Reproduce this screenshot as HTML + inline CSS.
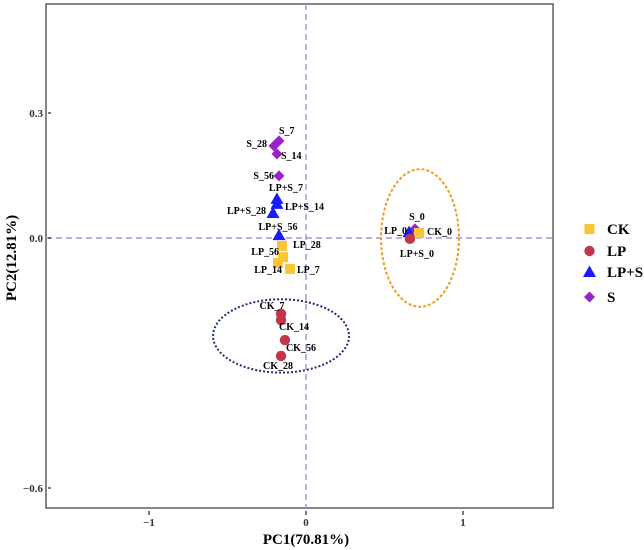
<!DOCTYPE html>
<html><head><meta charset="utf-8"><style>
body{margin:0;background:#fff}
svg{display:block;font-family:"Liberation Serif",serif}
</style></head><body>
<svg id="chart" width="644" height="550" viewBox="0 0 644 550"></svg>
<script>
const xTicks=[-1,0,1];
const yTicks=[0.3,0,-0.6];
const yTickLabels=["0.3","0.0","\u22120.6"];
const xTickLabels=["\u22121","0","1"];
const groups=["CK","LP","LP+S","S"];
const labels=["S_7","S_28","S_14","S_56","LP+S_7","LP+S_14","LP+S_28","LP+S_56","LP_28","LP_56","LP_14","LP_7","CK_7","CK_14","CK_56","CK_28","S_0","LP_0","CK_0","LP+S_0"];
const pc1=[-0.172,-0.204,-0.185,-0.172,-0.185,-0.185,-0.210,-0.172,-0.153,-0.146,-0.178,-0.102,-0.159,-0.159,-0.134,-0.159,0.694,0.656,0.720,0.662];
const pc2=[0.233,0.221,0.202,0.149,0.094,0.082,0.060,0.007,-0.019,-0.046,-0.060,-0.074,-0.182,-0.197,-0.245,-0.283,0.022,0.014,0.012,-0.002];
const groupOf=["S","S","S","S","LP+S","LP+S","LP+S","LP+S","CK","CK","CK","CK","LP","LP","LP","LP","S","LP+S","CK","LP"];
const ellipseBlue=[-0.159,-0.235,0.433,0.088];
const ellipseOrange=[0.726,0.0,0.248,0.165];

const L=46,R=553,T=4,B=508;
const X=v=>306+v*157, Y=v=>238-v*416.7;
const lblOff={"S_7":[0,-7,"start"],"S_28":[-7,1,"end"],"S_14":[4,5,"start"],"S_56":[-5,3,"end"],"LP+S_7":[9,-8,"middle"],"LP+S_14":[8,6,"start"],"LP+S_28":[-7,1,"end"],"LP+S_56":[-1,-5,"middle"],"LP_28":[11,2,"start"],"LP_56":[-4,-2,"end"],"LP_14":[4,10,"end"],"LP_7":[7,4,"start"],"CK_7":[-9,-5,"middle"],"CK_14":[-2,10,"start"],"CK_56":[1,11,"start"],"CK_28":[-3,13,"middle"],"S_0":[2,-9,"middle"],"LP_0":[-2,2,"end"],"CK_0":[8,2,"start"],"LP+S_0":[7,18,"middle"]};
const svg=document.getElementById('chart');const NS="http://www.w3.org/2000/svg";
function mk(t,a,p){const e=document.createElementNS(NS,t);for(const k in a)e.setAttribute(k,a[k]);(p||svg).appendChild(e);return e;}
function marker(g,cx,cy){let e;
 if(g==="CK"){e=mk('rect',{x:cx-5,y:cy-5,width:10,height:10,fill:'#fcc536'});}
 else if(g==="LP"){e=mk('circle',{cx:cx,cy:cy,r:5.2,fill:'#c0374a'});}
 else if(g==="LP+S"){e=mk('polygon',{points:`${cx},${cy-6.5} ${cx-6.5},${cy+5} ${cx+6.5},${cy+5}`,fill:'#1a1aff'});}
 else {e=mk('polygon',{points:`${cx},${cy-5.5} ${cx+5.5},${cy} ${cx},${cy+5.5} ${cx-5.5},${cy}`,fill:'#9a22cc'});}
 return e;}
let e;
e=mk('rect',{x:L,y:T,width:R-L,height:B-T,fill:'none',stroke:'#444','stroke-width':1.3});

e=mk('line',{x1:X(0),x2:X(0),y1:T,y2:B,stroke:'#9b9bd6','stroke-width':1.5,'stroke-dasharray':'6,4'});

e=mk('line',{x1:L,x2:R,y1:Y(0),y2:Y(0),stroke:'#9b9bd6','stroke-width':1.5,'stroke-dasharray':'6,4'});

xTicks.forEach((v,i)=>{const t=mk('line',{x1:X(v),x2:X(v),y1:B+3,y2:B+7,stroke:'#333','stroke-width':1.3});
 
 const l=mk('text',{x:X(v),y:B+18,'text-anchor':'middle','font-size':11,'font-weight':'bold',fill:'#333'});l.textContent=xTickLabels[i];
 });
yTicks.forEach((v,i)=>{const t=mk('line',{x1:L+2,x2:L+5,y1:Y(v),y2:Y(v),stroke:'#333','stroke-width':1.3});
 
 const l=mk('text',{x:L-3,y:Y(v)+4,'text-anchor':'end','font-size':11,'font-weight':'bold',fill:'#333'});l.textContent=yTickLabels[i];
 });
e=mk('ellipse',{cx:X(ellipseBlue[0]),cy:Y(ellipseBlue[1]),rx:ellipseBlue[2]*157,ry:ellipseBlue[3]*416.7,fill:'none',stroke:'#1f2f7a','stroke-width':2,'stroke-dasharray':'2,2'});

e=mk('ellipse',{cx:X(ellipseOrange[0]),cy:Y(ellipseOrange[1]),rx:ellipseOrange[2]*157,ry:ellipseOrange[3]*416.7,fill:'none',stroke:'#e8a020','stroke-width':2,'stroke-dasharray':'3,2'});

labels.forEach((n,i)=>{const cx=X(pc1[i]),cy=Y(pc2[i]);
 const m=marker(groupOf[i],cx,cy);
 
 
 const o=lblOff[n]||[5,-5,'start'];
 const t=mk('text',{x:cx+o[0],y:cy+o[1],'text-anchor':o[2],'font-size':10,'font-weight':'bold'});t.textContent=n;
 
 });
const legY=[229,251,272,297];
groups.forEach((g,i)=>{const m=marker(g,589.5,legY[i]);
 
 const t=mk('text',{x:607,y:legY[i]+5,'font-size':15,'font-weight':'bold'});t.textContent=g;
 });
e=mk('text',{x:306,y:544,'text-anchor':'middle','font-size':15,'font-weight':'bold'});e.textContent='PC1(70.81%)';

e=mk('text',{x:0,y:0,'text-anchor':'middle','font-size':15,'font-weight':'bold',transform:'translate(16,258) rotate(-90)'});e.textContent='PC2(12.81%)';

</script>
</body></html>
